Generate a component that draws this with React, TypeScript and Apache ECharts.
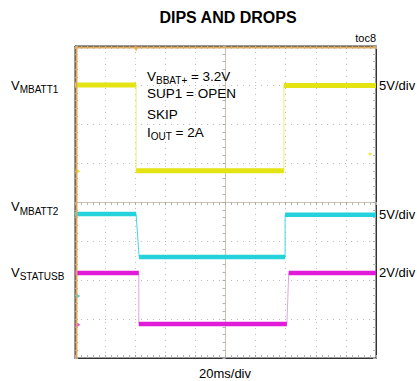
import React, { useEffect, useRef } from "react";
import * as echarts from "echarts";

// Time axis in divisions (20 ms/div), centered at 0; vertical axis in divisions, centered at 0
const xRange = [-5, 5];
const yRange = [-4, 4];

// Channel 1 (VMBATT1, yellow, 5V/div)
const ch1Time = [-5, -2.97, -2.97, 1.94, 1.94, 5];
const ch1Level = [3.0, 3.0, 0.8, 0.8, 2.99, 2.99];
// Channel 2 (VMBATT2, cyan, 5V/div)
const ch2Time = [-5, -2.97, -2.87, 1.98, 1.98, 5];
const ch2Level = [-0.31, -0.31, -1.41, -1.41, -0.33, -0.33];
// Channel 3 (VSTATUSB, magenta, 2V/div)
const ch3Time = [-5, -2.88, -2.88, 2.04, 2.1, 5];
const ch3Level = [-1.82, -1.82, -3.13, -3.13, -1.82, -1.82];

// ground reference markers (divisions)
const groundLevels = [0.79, -2.41, -3.15];
const triggerTime = -2.97;
const strayDot = [4.8, 1.23];

const channelNames = ["MBATT1", "MBATT2", "STATUSB"];
const scaleLabels = ["5V/div", "5V/div", "2V/div"];
const timeLabel = "20ms/div";
const titleText = "DIPS AND DROPS";
const tocText = "toc8";

const YELLOW = "#e4e415";
const CYAN = "#25d2dc";
const MAGENTA = "#e01cd8";
const FONT = "'Liberation Sans', Arial, sans-serif";

function thickSegments(t: number[], v: number[]) {
  const out: any[] = [];
  for (let i = 0; i < t.length - 1; i++) {
    if (v[i] === v[i + 1]) {
      out.push([t[i], v[i]], [t[i + 1], v[i + 1]], [null, null]);
    }
  }
  return out;
}
function path(t: number[], v: number[]) {
  return t.map((x, i) => [x, v[i]]);
}

let ctx: CanvasRenderingContext2D | null = null;
function measure(text: string, font: string) {
  if (!ctx) ctx = document.createElement("canvas").getContext("2d");
  if (!ctx) return text.length * 7;
  ctx.font = font;
  return ctx.measureText(text).width;
}

// text with subscript: parts alternate [main, sub, main, ...]
function subText(parts: string[], x: number, cy: number, size: number, subSize: number, subDrop: number) {
  const els: any[] = [];
  let cx = x;
  parts.forEach((p, i) => {
    if (!p) return;
    const isSub = i % 2 === 1;
    const font = `${isSub ? subSize : size}px ${FONT}`;
    els.push({
      type: "text",
      x: cx,
      y: isSub ? cy + subDrop : cy,
      style: { text: p, font, fill: "#000", textAlign: "left", textVerticalAlign: "middle" },
      z: 20,
    });
    cx += measure(p, font);
  });
  return els;
}

export default function App() {
  const ref = useRef<HTMLDivElement>(null);
  useEffect(() => {
    if (!ref.current) return;
    const chart = echarts.init(ref.current, undefined, { renderer: "svg" });
    const dotted = { type: [1, 5] as any, color: "#bdbdbd", width: 1 };
    const baseX = {
      type: "value",
      min: xRange[0],
      max: xRange[1],
      interval: 1,
      axisLabel: { show: false },
      splitLine: { show: false },
    };
    const baseY = {
      type: "value",
      min: yRange[0],
      max: yRange[1],
      interval: 1,
      axisLabel: { show: false },
      splitLine: { show: false },
    };
    const tick = { show: true, inside: true, length: 3, lineStyle: { color: "#aaa" } };
    const minor = { show: true, splitNumber: 5, length: 3, lineStyle: { color: "#b5b5b5" } };

    const traces = [
      { t: ch1Time, v: ch1Level, c: YELLOW, thin: "#eeee70", w: 5 },
      { t: ch2Time, v: ch2Level, c: CYAN, thin: "#40d8e0", w: 4.5 },
      { t: ch3Time, v: ch3Level, c: MAGENTA, thin: "#e0a6e0", w: 4.5 },
    ];
    const series: any[] = [];
    traces.forEach((tr) => {
      series.push({
        type: "line",
        data: path(tr.t, tr.v),
        showSymbol: false,
        lineStyle: { color: tr.thin, width: 1 },
        z: 3,
      });
      series.push({
        type: "line",
        data: thickSegments(tr.t, tr.v),
        showSymbol: false,
        connectNulls: false,
        lineStyle: { color: tr.c, width: tr.w, cap: "butt" },
        z: 4,
      });
    });
    series.push({
      type: "scatter",
      data: groundLevels.map((g) => [xRange[0], g]),
      symbol: "triangle",
      symbolRotate: -90,
      symbolSize: [6, 5],
      symbolOffset: [3, 0],
      itemStyle: {
        color: (p: any) => [YELLOW, CYAN, MAGENTA][p.dataIndex],
      },
      z: 5,
    });
    series.push({
      type: "scatter",
      data: [[triggerTime, yRange[1]]],
      symbol: "triangle",
      symbolRotate: 180,
      symbolSize: [5, 5],
      symbolOffset: [0, 3],
      itemStyle: { color: "#f0a020" },
      z: 5,
    });
    series.push({
      type: "scatter",
      data: [strayDot],
      symbolSize: 3,
      itemStyle: { color: YELLOW },
      z: 5,
    });

    const labelCy = [85, 206.5, 272];
    const rightCy = [85, 214, 272.5];
    let graphic: any[] = [
      {
        type: "text",
        x: 228,
        y: 17.5,
        style: { text: titleText, font: `bold 16px ${FONT}`, fill: "#000", textAlign: "center", textVerticalAlign: "middle" },
      },
      {
        type: "text",
        x: 376,
        y: 38,
        style: { text: tocText, font: `11px ${FONT}`, fill: "#000", textAlign: "right", textVerticalAlign: "middle" },
      },
      {
        type: "text",
        x: 225,
        y: 373,
        style: { text: timeLabel, font: `13px ${FONT}`, fill: "#000", textAlign: "center", textVerticalAlign: "middle" },
      },
      { type: "line", shape: { x1: 76.5, y1: 46, x2: 76.5, y2: 358 }, style: { stroke: "#dcaa62", lineWidth: 2 }, z: 10 },
      { type: "line", shape: { x1: 75, y1: 47.5, x2: 376, y2: 47.5 }, style: { stroke: "#dcaa62", lineWidth: 2 }, z: 10 },
    ];
    channelNames.forEach((n, i) => {
      graphic = graphic.concat(subText(["V", n], 11, labelCy[i], 13, 10, 4.5));
      graphic.push({
        type: "text",
        x: 379,
        y: rightCy[i],
        style: { text: scaleLabels[i], font: `13px ${FONT}`, fill: "#000", textVerticalAlign: "middle" },
      });
    });
    // condition annotation
    const annSize = 13.5;
    graphic = graphic.concat(subText(["V", "BBAT+", " = 3.2V"], 147, 76, annSize, 10, 4.5));
    graphic = graphic.concat(subText(["SUP1 = OPEN"], 147, 93, annSize, 10, 4.5));
    graphic = graphic.concat(subText(["SKIP"], 147, 114, annSize, 10, 4.5));
    graphic = graphic.concat(subText(["I", "OUT", " = 2A"], 147, 132, annSize, 10, 4.5));

    chart.setOption({
      animation: false,
      backgroundColor: "#fff",
      grid: { left: 75, top: 46, width: 301, height: 312, show: true, borderColor: "#333", borderWidth: 1, backgroundColor: "#fff" },
      xAxis: [
        { ...baseX, position: "bottom", axisLine: { onZero: false, lineStyle: { color: "#333" } }, axisTick: tick, minorTick: minor, splitLine: { show: true, lineStyle: dotted } },
        { ...baseX, position: "top", axisLine: { onZero: false, lineStyle: { color: "#333" } }, axisTick: tick, minorTick: minor },
        { ...baseX, position: "bottom", axisLine: { onZero: true, onZeroAxisIndex: 0, lineStyle: { color: "#cdc3b0" } }, axisTick: { ...tick, inside: false, length: 3 }, minorTick: minor },
      ],
      yAxis: [
        { ...baseY, position: "left", axisLine: { onZero: false, lineStyle: { color: "#333" } }, axisTick: tick, minorTick: minor, splitLine: { show: true, lineStyle: dotted } },
        { ...baseY, position: "right", axisLine: { onZero: false, lineStyle: { color: "#333" } }, axisTick: tick, minorTick: minor },
        { ...baseY, position: "left", axisLine: { onZero: true, onZeroAxisIndex: 0, lineStyle: { color: "#cdc3b0" } }, axisTick: { ...tick, inside: false, length: 3 }, minorTick: minor },
      ],
      series,
      graphic,
    });
    return () => chart.dispose();
  }, []);
  return <div ref={ref} style={{ width: 417, height: 381, position: "absolute", left: 0, top: 0 }} />;
}
